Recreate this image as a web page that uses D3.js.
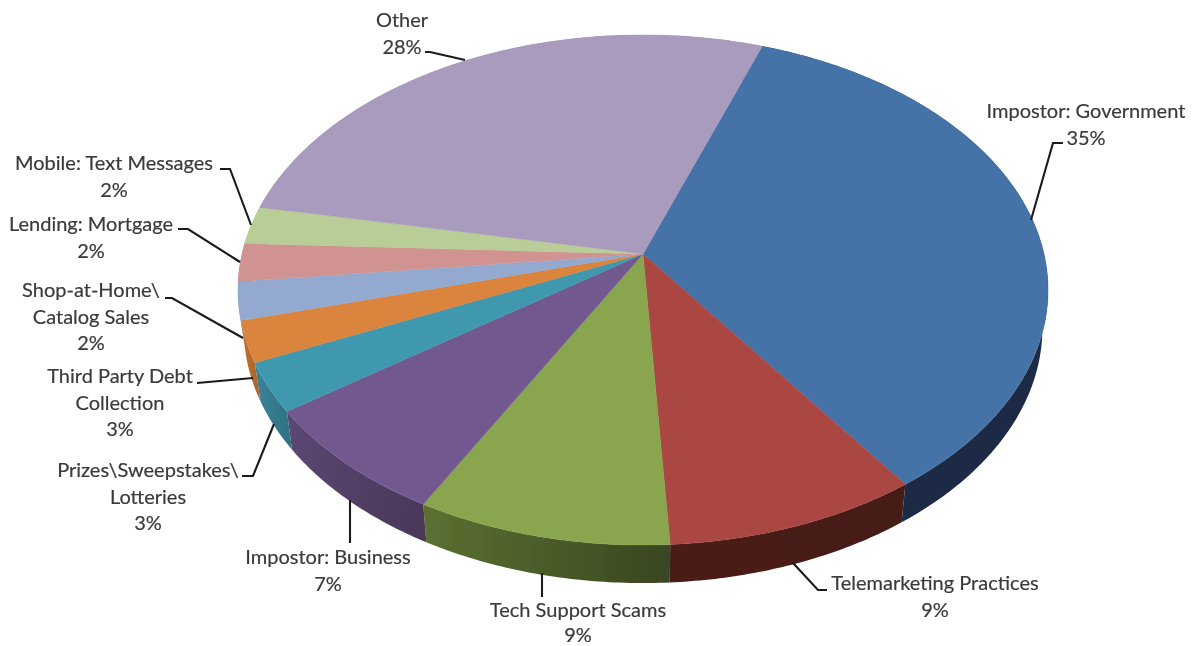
<!DOCTYPE html>
<html>
<head>
<meta charset="utf-8">
<title>Complaint categories</title>
<script src="https://cdn.jsdelivr.net/npm/d3@7"></script>
<style>
    html, body { margin: 0; padding: 0; background: #fff; }
    svg { display: block; }
    text { font-family: Lato, "Open Sans", sans-serif; font-size: 20px; fill: #3a3a3a; stroke: #3a3a3a; stroke-width: 0.2px; }
</style>
</head>
<body>
<div id="chart"></div>
<script>
// Slices in drawing order, clockwise from the blue one
var categories = [
    ["Impostor: Government"],
    ["Telemarketing Practices"],
    ["Tech Support Scams"],
    ["Impostor: Business"],
    ["Prizes\\Sweepstakes\\", "Lotteries"],
    ["Third Party Debt", "Collection"],
    ["Shop-at-Home\\", "Catalog Sales"],
    ["Lending: Mortgage"],
    ["Mobile: Text Messages"],
    ["Other"]
];
// sizes as measured from the slice edges in the picture
var shares = [34.7, 8.9, 8.9, 7.2, 3.1, 2.6, 2.4, 2.4, 2.4, 27.4];
// percentages as printed in the labels
var printed = ["35%", "9%", "9%", "7%", "3%", "3%", "2%", "2%", "2%", "28%"];

var topColors = ["#4572a7", "#aa4643", "#89a54e", "#71588f", "#4198af",
                 "#db843d", "#93a9cf", "#d19392", "#b9cd96", "#a99bbd"];
var wallLeft  = ["#1a2c44", "#4a1b17", "#5b7031", "#5a4672", "#3a8195",
                 "#b96d30", "#7d90b0", "#b27d7c", "#9daf80", "#8f84a1"];
var wallRight = ["#1a2c44", "#451a16", "#394620", "#4a3758", "#2f7084",
                 "#a8632b", "#7d90b0", "#b27d7c", "#9daf80", "#8f84a1"];

// label centre x, first baseline y, leader polyline
var labelLayout = [
    { x: 1086, y: 118, leader: [[1031, 220], [1053, 143], [1063, 143]] },
    { x: 935,  y: 590, leader: [[793, 563], [818, 590], [827, 590]] },
    { x: 578,  y: 617, leading: 24.5, leader: [[542, 573], [542, 597]] },
    { x: 328,  y: 564, leader: [[350, 500], [350, 543]] },
    { x: 148,  y: 477, leader: [[274, 424], [253, 476], [242, 476]] },
    { x: 120,  y: 383, leader: [[253, 378], [197, 383]] },
    { x: 91,   y: 297, leader: [[243, 338], [172, 298], [165, 298]] },
    { x: 91,   y: 231, leader: [[240, 262], [188, 229], [178, 229]] },
    { x: 114,  y: 170, leader: [[251, 225], [230, 169], [220, 169]] },
    { x: 402,  y: 27,  leader: [[465, 60], [430, 52], [425, 52]] }
];

function init() {
    var w = 1197;
    var h = 646;
    var lineHeight = 26.5;
    var firstEdge = 19.7 * Math.PI / 180;

    // Tilted disc: apex is the projected centre, k is the perspective strength
    var apexX = 643, apexY = 254;
    var k = 0.141;
    var wallDepth = 38;
    var wallShrink = 0.986;

    var xScale = d3.scaleLinear().domain([-1, 1]).range([apexX - 401, apexX + 401]);
    var yScale = d3.scaleLinear().domain([-1, 1]).range([apexY - 250, apexY + 250]);

    function project(angle, z) {
        var X = Math.sin(angle);
        var Y = -Math.cos(angle);
        var d = 1 - k * Y;
        var sx = xScale(X / d);
        var sy = yScale(Y / d);
        return [apexX + (sx - apexX) * (1 - (1 - wallShrink) * z), sy + wallDepth * z];
    }

    var pie = d3.pie()
                .sort(null)
                .startAngle(firstEdge)
                .endAngle(firstEdge + 2 * Math.PI);
    var slices = pie(shares);

    function rim(a0, a1, z) {
        var n = Math.max(2, Math.ceil((a1 - a0) * 90));
        return d3.range(n + 1).map(function(i) {
            return project(a0 + (a1 - a0) * i / n, z);
        });
    }

    var line = d3.line();

    var svg = d3.select("#chart")
                .append("svg")
                .attr("width", w)
                .attr("height", h);

    // The reference is a slightly soft bitmap
    var defs = svg.append("defs");
    defs.append("filter")
        .attr("id", "soft")
        .append("feGaussianBlur")
        .attr("stdDeviation", 0.45);

    slices.forEach(function(s, i) {
        var a = project(s.startAngle, 1);
        var b = project(s.endAngle, 1);
        var grad = defs.append("linearGradient")
                       .attr("id", "wall" + i)
                       .attr("gradientUnits", "userSpaceOnUse")
                       .attr("x1", Math.min(a[0], b[0]))
                       .attr("x2", Math.max(a[0], b[0]))
                       .attr("y1", 0)
                       .attr("y2", 0);
        grad.append("stop").attr("offset", 0).attr("stop-color", wallLeft[i]);
        grad.append("stop").attr("offset", 1).attr("stop-color", wallRight[i]);
    });

    var root = svg.append("g").attr("filter", "url(#soft)");

    // Side wall first, the top face covers the back part of it
    root.selectAll("path.wall")
        .data(slices)
        .enter()
        .append("path")
        .attr("class", "wall")
        .attr("fill", function(d, i) { return "url(#wall" + i + ")"; })
        .attr("d", function(d) {
            var pts = rim(d.startAngle, d.endAngle, 0)
                        .concat(rim(d.startAngle, d.endAngle, 1).reverse());
            return line(pts) + "Z";
        });

    root.selectAll("path.face")
        .data(slices)
        .enter()
        .append("path")
        .attr("class", "face")
        .attr("fill", function(d, i) { return topColors[i]; })
        .attr("stroke", function(d, i) { return topColors[i]; })
        .attr("stroke-width", 0.4)
        .attr("d", function(d) {
            return line([[apexX, apexY]].concat(rim(d.startAngle, d.endAngle, 0))) + "Z";
        });

    // Leader lines
    root.selectAll("path.leader")
        .data(labelLayout)
        .enter()
        .append("path")
        .attr("class", "leader")
        .attr("fill", "none")
        .attr("stroke", "#1a1a1a")
        .attr("stroke-width", 2.1)
        .attr("d", function(d) { return line(d.leader); });

    // Labels
    var labels = root.selectAll("text.label")
        .data(labelLayout)
        .enter()
        .append("text")
        .attr("class", "label")
        .attr("text-anchor", "middle")
        .attr("x", function(d) { return d.x; })
        .attr("y", function(d) { return d.y; });

    labels.each(function(d, i) {
        var rows = categories[i].concat(printed[i]);
        d3.select(this).selectAll("tspan")
            .data(rows)
            .enter()
            .append("tspan")
            .attr("x", d.x)
            .attr("dy", function(r, j) { return j === 0 ? 0 : (d.leading || lineHeight); })
            .text(function(r) { return r; });
    });
}
window.onload = init;
</script>
</body>
</html>
